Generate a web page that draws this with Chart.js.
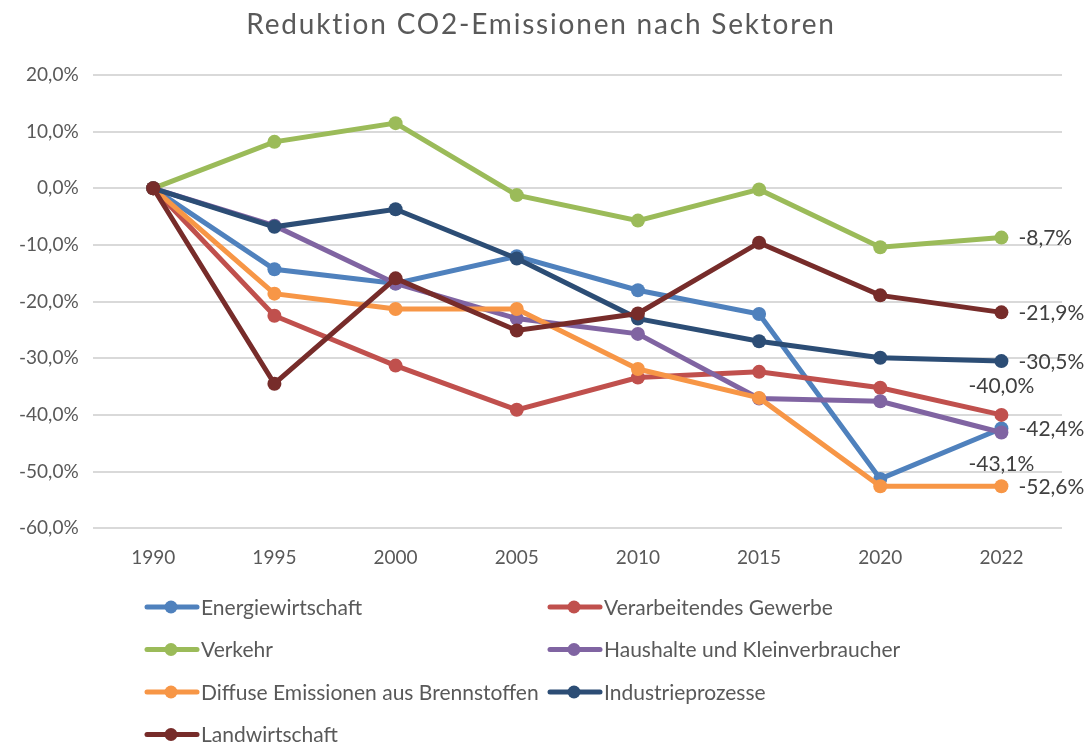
<!DOCTYPE html>
<html>
<head>
<meta charset="utf-8">
<script src="https://cdn.jsdelivr.net/npm/chart.js@4"></script>
<style>
  html, body { margin: 0; padding: 0; background: #fff; }
  #wrap { width: 1086px; height: 745px; position: relative; }
</style>
</head>
<body>
<div id="wrap"><canvas id="chart"></canvas></div>
<script>
const years = ['1990', '1995', '2000', '2005', '2010', '2015', '2020', '2022'];

const sectorNames = [
  'Energiewirtschaft',
  'Verarbeitendes Gewerbe',
  'Verkehr',
  'Haushalte und Kleinverbraucher',
  'Diffuse Emissionen aus Brennstoffen',
  'Industrieprozesse',
  'Landwirtschaft'
];

const energie      = [0, -14.3, -16.8, -12.0, -18.0, -22.2, -51.3, -42.4];
const gewerbe      = [0, -22.5, -31.3, -39.1, -33.4, -32.4, -35.2, -40.0];
const verkehr      = [0,   8.2,  11.5,  -1.2,  -5.7,  -0.2, -10.4,  -8.7];
const haushalte    = [0,  -6.6, -16.8, -23.0, -25.7, -37.1, -37.6, -43.1];
const diffus       = [0, -18.6, -21.3, -21.3, -31.9, -37.0, -52.6, -52.6];
const industrie    = [0,  -6.8,  -3.7, -12.4, -23.0, -27.0, -29.9, -30.5];
const landwirt     = [0, -34.5, -15.9, -25.1, -22.1,  -9.6, -18.9, -21.9];

const yTicks = { min: -60, max: 20, step: 10 };

const seriesValues = [energie, gewerbe, verkehr, haushalte, diffus, industrie, landwirt];
const colors = ['#4F81BD', '#C0504D', '#9BBB59', '#8064A2', '#F79646', '#2C4D75', '#772C2A'];
// where the end label sits relative to the last point
const labelPos = ['right', 'above', 'right', 'below', 'right', 'right', 'right'];

const FONT = 'Lato, "Open Sans", sans-serif';
const TEXT = '#595959';
const chartTitle = 'Reduktion CO2-Emissionen nach Sektoren';

function fmt(v) {
  return v.toFixed(1).replace('.', ',') + '%';
}

// title drawn by hand so it can get some letter spacing
const spacedTitle = {
  id: 'spacedTitle',
  afterDraw(chart) {
    const ctx = chart.ctx;
    ctx.save();
    ctx.font = '28px ' + FONT;
    ctx.letterSpacing = '1.8px';
    ctx.fillStyle = TEXT;
    ctx.textAlign = 'center';
    ctx.textBaseline = 'middle';
    ctx.fillText(chartTitle, 541, 25);
    ctx.restore();
  }
};

// labels at the last point of each line
const endLabels = {
  id: 'endLabels',
  afterDatasetsDraw(chart) {
    const ctx = chart.ctx;
    ctx.save();
    ctx.font = '21px ' + FONT;
    ctx.fillStyle = '#404040';
    ctx.textBaseline = 'middle';
    chart.data.datasets.forEach((ds, i) => {
      const meta = chart.getDatasetMeta(i);
      const pt = meta.data[meta.data.length - 1];
      const txt = fmt(ds.data[ds.data.length - 1]);
      const pos = labelPos[i];
      if (pos === 'right') {
        ctx.textAlign = 'left';
        ctx.fillText(txt, pt.x + 17, pt.y + 1);
      } else if (pos === 'above') {
        ctx.textAlign = 'center';
        ctx.fillText(txt, pt.x, pt.y - 29);
      } else {
        ctx.textAlign = 'center';
        ctx.fillText(txt, pt.x, pt.y + 32);
      }
    });
    ctx.restore();
  }
};

// two-column legend below the plot
const gridLegend = {
  id: 'gridLegend',
  afterDraw(chart) {
    const ctx = chart.ctx;
    const colX = [145, 548];
    const rowY0 = 607, rowGap = 42.5;
    ctx.save();
    ctx.font = '21px ' + FONT;
    ctx.textBaseline = 'middle';
    ctx.textAlign = 'left';
    chart.data.datasets.forEach((ds, i) => {
      const x = colX[i % 2];
      const y = rowY0 + Math.floor(i / 2) * rowGap;
      ctx.strokeStyle = ds.borderColor;
      ctx.lineWidth = 5;
      ctx.lineCap = 'round';
      ctx.beginPath();
      ctx.moveTo(x + 2, y);
      ctx.lineTo(x + 52, y);
      ctx.stroke();
      ctx.fillStyle = ds.borderColor;
      ctx.beginPath();
      ctx.arc(x + 26, y, 6.5, 0, Math.PI * 2);
      ctx.fill();
      ctx.fillStyle = TEXT;
      ctx.fillText(ds.label, x + 56, y + 1);
    });
    ctx.restore();
  }
};

const datasets = seriesValues.map((vals, i) => ({
  label: sectorNames[i],
  data: vals,
  borderColor: colors[i],
  backgroundColor: colors[i],
  borderWidth: 5,
  pointRadius: 7,
  pointHoverRadius: 7,
  pointBorderWidth: 0,
  tension: 0,
  order: seriesValues.length - i,
  clip: false
}));

new Chart(document.getElementById('chart'), {
  type: 'line',
  data: { labels: years, datasets: datasets },
  options: {
    responsive: true,
    maintainAspectRatio: false,
    animation: false,
    layout: { padding: { left: 5, right: 24, top: 75, bottom: 166 } },
    plugins: {
      legend: { display: false },
      tooltip: { enabled: false },
      title: { display: false }
    },
    scales: {
      x: {
        offset: true,
        grid: { display: false },
        border: { display: false },
        ticks: { color: TEXT, font: { family: FONT, size: 19 }, padding: 10 }
      },
      y: {
        min: yTicks.min,
        max: yTicks.max,
        ticks: {
          stepSize: yTicks.step,
          color: TEXT,
          font: { family: FONT, size: 19 },
          padding: 14,
          callback: v => fmt(v)
        },
        grid: { color: '#d9d9d9', lineWidth: 2, drawTicks: false },
        border: { display: false }
      }
    }
  },
  plugins: [endLabels, gridLegend, spacedTitle]
});
</script>
</body>
</html>
